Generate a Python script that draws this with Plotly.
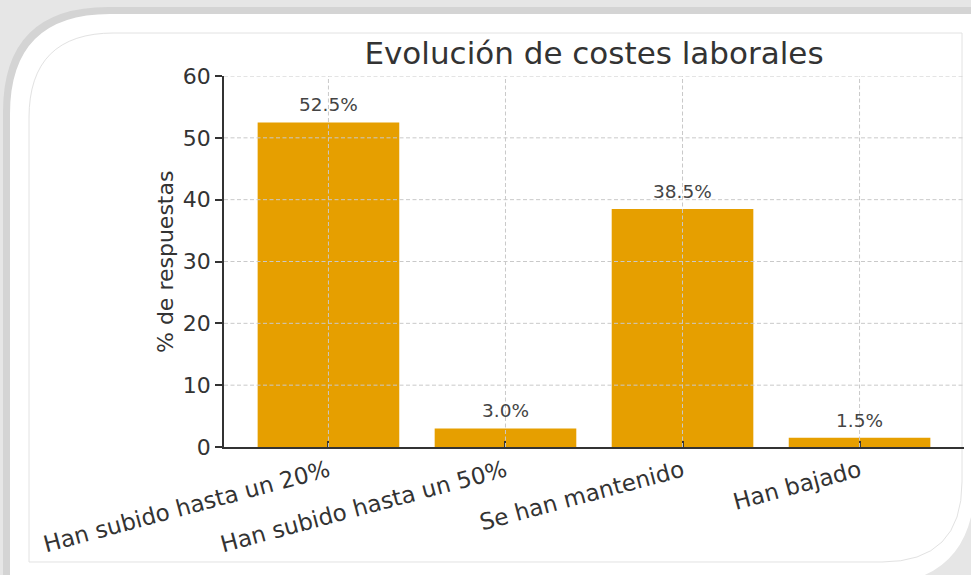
import plotly.graph_objects as go

categories = ["Han subido hasta un 20%", "Han subido hasta un 50%", "Se han mantenido", "Han bajado"]
values = [52.5, 3.0, 38.5, 1.5]
y_ticks = [0, 10, 20, 30, 40, 50, 60]
title_text = "Evolución de costes laborales"
y_title = "% de respuestas"

W, H = 971, 575
ML, MR, MT, MB = 224, 7, 76, 128
PW, PH = W - ML - MR, H - MT - MB


def px(x):
    return (x - ML) / PW


def py(y):
    return (H - MB - y) / PH


def path(points):
    out = []
    for cmd, *pts in points:
        coords = " ".join(f"{px(x):.5f},{py(y):.5f}" for x, y in pts)
        out.append(f"{cmd} {coords}" if coords else cmd)
    return " ".join(out)


FONT = "DejaVu Sans"
TXT = "#333333"
BAR = "#E69F00"
GRID = "#c9c9c9"
DASH = "4px,2.5px"

fig = go.Figure()
fig.add_trace(go.Bar(
    x=list(range(len(categories))), y=values, width=0.8,
    marker=dict(color=BAR, line=dict(width=0)),
    hoverinfo="skip",
))

shapes = []
# page background / frame decoration
shapes.append(dict(type="rect", xref="paper", yref="paper", x0=px(-5), x1=px(W + 5), y0=py(H + 5), y1=py(-5),
                   fillcolor="#e6e6e6", line=dict(width=0), layer="below"))
shapes.append(dict(type="path", xref="paper", yref="paper", layer="below",
                   path=path([("M", (3, 580)), ("L", (3, 112)), ("Q", (3, 7), (108, 7)), ("L", (980, 7)),
                              ("L", (980, 300)), ("L", (300, 300)), ("L", (300, 580)), ("Z",)]),
                   fillcolor="#d4d4d4", line=dict(width=0)))
shapes.append(dict(type="path", xref="paper", yref="paper", layer="below",
                   path=path([("M", (10, 585)), ("L", (10, 114)), ("Q", (10, 14), (110, 14)), ("L", (980, 14)),
                              ("L", (975, 480)), ("Q", (975, 585), (870, 585)), ("Z",)]),
                   fillcolor="#ffffff", line=dict(width=0)))
shapes.append(dict(type="path", xref="paper", yref="paper", layer="below",
                   path=path([("M", (29, 562)), ("L", (29, 118)), ("Q", (29, 33), (114, 33)), ("L", (962, 33)),
                              ("L", (962, 482)), ("Q", (962, 562), (882, 562)), ("Z",)]),
                   fillcolor="rgba(0,0,0,0)", line=dict(color="#e2e2e2", width=1)))

# grid lines drawn above bars (as in reference)
for t in y_ticks[1:]:
    shapes.append(dict(type="line", xref="paper", yref="y", x0=0, x1=1, y0=t, y1=t,
                       line=dict(color=GRID, width=1, dash=DASH), layer="above"))
for i in range(len(categories)):
    shapes.append(dict(type="line", xref="x", yref="y", x0=i, x1=i, y0=0, y1=y_ticks[-1],
                       line=dict(color=GRID, width=1, dash=DASH), layer="above"))

annotations = []
for i, v in enumerate(values):
    annotations.append(dict(x=i, y=v, xref="x", yref="y", text=f"{v:.1f}%", showarrow=False,
                            yanchor="bottom", yshift=5, font=dict(family=FONT, size=18.5, color="#444444")))
annotations.append(dict(x=px(165), y=py(262), xref="paper", yref="paper", text=y_title, showarrow=False,
                        textangle=-90, xanchor="center", yanchor="middle",
                        font=dict(family=FONT, size=22, color=TXT)))

fig.update_layout(
    width=W, height=H,
    margin=dict(l=ML, r=MR, t=MT, b=MB, autoexpand=False),
    paper_bgcolor="white", plot_bgcolor="rgba(0,0,0,0)",
    showlegend=False,
    title=dict(text=title_text, x=0.5, xref="paper", xanchor="center",
               y=1 - 53 / H, yref="container", yanchor="middle",
               font=dict(family=FONT, size=31, color=TXT)),
    shapes=shapes, annotations=annotations,
    xaxis=dict(range=[-0.59, 3.59], tickmode="array", tickvals=list(range(len(categories))), ticktext=categories,
               tickangle=-15, ticks="inside", ticklen=6, tickwidth=1.5, tickcolor=TXT,
               showline=True, linecolor=TXT, linewidth=1.5, showgrid=False, zeroline=False,
               layer="above traces", automargin=False,
               tickfont=dict(family=FONT, size=23, color=TXT)),
    yaxis=dict(range=[0, 60], tickmode="array", tickvals=y_ticks, ticks="outside", ticklen=7, tickwidth=1.5,
               tickcolor=TXT, showline=True, linecolor=TXT, linewidth=1.5, showgrid=False, zeroline=False,
               automargin=False, tickfont=dict(family=FONT, size=22, color=TXT)),
)

fig.write_html("out.html", config={"displayModeBar": False},
               post_script="document.body.style.margin='0';document.body.style.padding='0';")
